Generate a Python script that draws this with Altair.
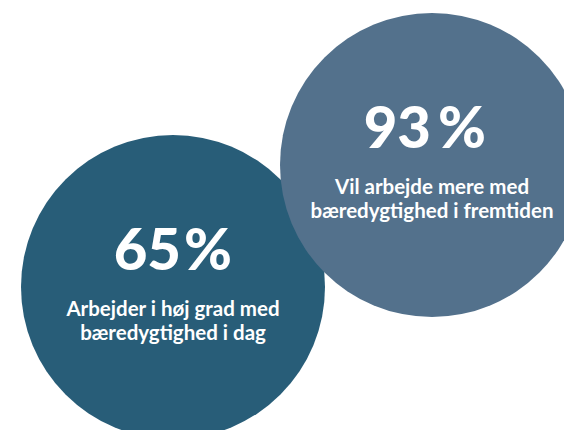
import altair as alt
import pandas as pd

# Data
values = [65, 93]
labels_line1 = ["Arbejder i høj grad med", "Vil arbejde mere med"]
labels_line2 = ["bæredygtighed i dag", "bæredygtighed i fremtiden"]
colors = ["#285d78", "#53718c"]

# Layout (page pixel coordinates)
cx = [173, 432]
cy = [287, 165]
num_right = [8, -1]    # offset of number's right edge from centre
sign_left = [11, 6]    # offset of % sign's left edge from centre
radius = 152

df = pd.DataFrame({
    "value": values,
    "num": [str(v) for v in values],
    "pctsign": ["%" for _ in values],
    "label": [[a, b] for a, b in zip(labels_line1, labels_line2)],
    "cx": cx,
    "cy": cy,
    "num_x": [c + o for c, o in zip(cx, num_right)],
    "sign_x": [c + o for c, o in zip(cx, sign_left)],
    "color": colors,
    "order": [0, 1],
})
df["pct_y"] = df["cy"] - 17
df["l1_y"] = df["cy"] + 29

W, H = 556, 422
xs = alt.Scale(domain=[8, 8 + W], range=[0, W], nice=False, zero=False)
ys = alt.Scale(domain=[8, 8 + H], range=[0, H], nice=False, zero=False)
noax = None

base = alt.Chart(df)
X = alt.X("cx:Q", scale=xs, axis=noax)

circles = base.mark_circle(opacity=1, size=4 * radius * radius, clip=True).encode(
    x=X,
    y=alt.Y("cy:Q", scale=ys, axis=noax),
    color=alt.Color("color:N", scale=None, legend=None),
    order=alt.Order("order:Q"),
)

num = base.mark_text(font="Lato", fontWeight=900, fontSize=58, color="white",
                     baseline="alphabetic", align="right").encode(
    x=alt.X("num_x:Q", scale=xs, axis=noax),
    y=alt.Y("pct_y:Q", scale=ys, axis=noax),
    text="num:N",
)

sign = base.mark_text(font="Lato", fontWeight=900, fontSize=58, color="white",
                      baseline="alphabetic", align="left").encode(
    x=alt.X("sign_x:Q", scale=xs, axis=noax),
    y=alt.Y("pct_y:Q", scale=ys, axis=noax),
    text="pctsign:N",
)

lab = base.mark_text(font="Lato", fontWeight="bold", fontSize=20.5, color="white",
                     baseline="alphabetic", align="center", lineHeight=24).encode(
    x=X,
    y=alt.Y("l1_y:Q", scale=ys, axis=noax),
    text="label",
)

chart = alt.layer(circles, num, sign, lab).properties(
    width=W, height=H, padding=0, autosize="none", background="white"
).configure_view(strokeWidth=0, stroke="transparent")

chart.save("out.html", embed_options={"renderer": "svg", "actions": False})
